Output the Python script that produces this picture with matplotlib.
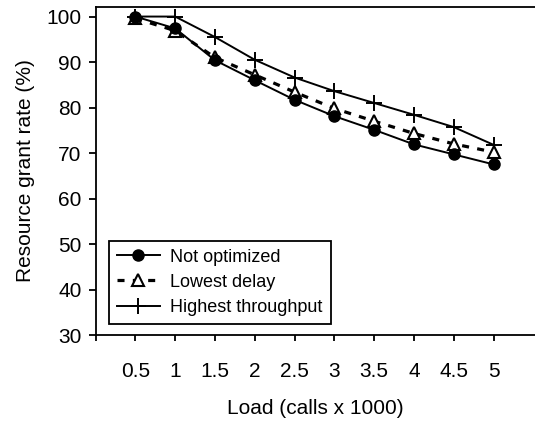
import numpy as np
import matplotlib
matplotlib.use('Agg')
import matplotlib.pyplot as plt

plt.rcParams['font.family'] = ['Liberation Sans', 'DejaVu Sans']

loads = ['0.5', '1', '1.5', '2', '2.5', '3', '3.5', '4', '4.5', '5']
not_optimized = [100, 97.4, 90.4, 86.0, 81.7, 78.1, 75.1, 71.9, 69.7, 67.5]
lowest_delay = [99.6, 96.9, 91.0, 87.2, 83.4, 79.8, 77.0, 74.3, 72.0, 70.2]
highest_tp = [100, 100, 95.5, 90.5, 86.6, 83.6, 81.0, 78.4, 75.7, 71.8]

x = np.arange(len(loads))

fig = plt.figure(figsize=(5.35, 4.23), dpi=100)
ax = fig.add_axes([95.5 / 535, 1 - 335 / 423, (535 - 95.5) / 535, (335 - 7) / 423])

ax.plot(x, highest_tp, color='black', lw=1.4, marker='+', ms=12, mew=1.4,
        label='Highest throughput', zorder=3)
ax.plot(x, lowest_delay, color='black', lw=2.3, ls=(0, (2.2, 2.6)), marker='^',
        ms=8, mfc='white', mec='black', mew=1.5, label='Lowest delay', zorder=4)
ax.plot(x, not_optimized, color='black', lw=1.4, marker='o', ms=8,
        label='Not optimized', zorder=5)

ax.set_xlim(-1, 10.04)
ax.set_ylim(30, 102.1)
ax.set_yticks(np.arange(30, 101, 10))
ax.set_xticks(x)
ax.set_xticklabels(loads)
ax.set_xticks([-1], minor=True)

ax.spines['right'].set_visible(False)
for s in ['left', 'bottom', 'top']:
    ax.spines[s].set_linewidth(1.3)

ax.tick_params(axis='x', which='both', direction='out', length=4.5, width=1.3,
               labelsize=15, pad=15)
ax.tick_params(axis='y', direction='out', length=5, width=1.3, labelsize=15, pad=5)

ax.set_xlabel('Load (calls x 1000)', fontsize=15, labelpad=13)
ax.set_ylabel('Resource grant rate (%)', fontsize=15, labelpad=8)

h, l = ax.get_legend_handles_labels()
leg = ax.legend(h[::-1], l[::-1], loc='lower left',
                bbox_to_anchor=(109 / 535, 1 - 324 / 423),
                bbox_transform=fig.transFigure, borderaxespad=0,
                fontsize=13, handlelength=2.35, labelspacing=0.45,
                fancybox=False, edgecolor='black', framealpha=1,
                borderpad=0.45, handletextpad=0.6)
leg.get_frame().set_linewidth(1.3)

fig.savefig('out.png', dpi=100)
